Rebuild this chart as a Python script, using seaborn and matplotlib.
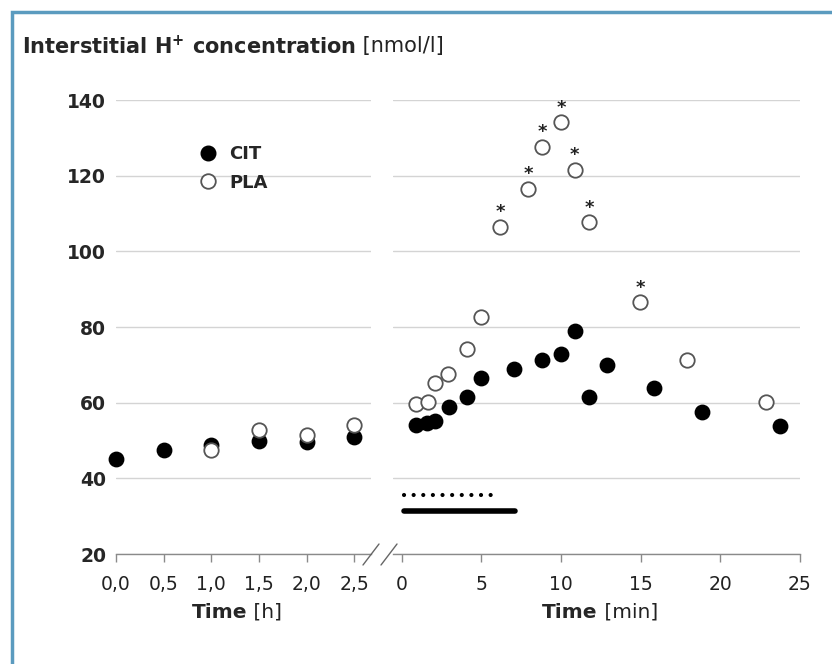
import matplotlib
matplotlib.use("Agg")
import matplotlib.pyplot as plt
import seaborn as sns
import pandas as pd
from matplotlib.lines import Line2D
from matplotlib.patches import Rectangle

sns.set_style("white")
plt.rcParams['font.family'] = ['DejaVu Sans']

# ---- data: baseline (hours)
h_time = [0.0, 0.5, 1.0, 1.5, 2.0, 2.5]
h_cit = [45.1, 47.6, 48.9, 49.9, 49.7, 51.0]
h_pla_time = [1.0, 1.5, 2.0, 2.5]
h_pla = [47.6, 52.8, 51.4, 54.0]

# ---- data: exercise / recovery (minutes)
m_cit_time = [0.88, 1.6, 2.09, 2.97, 4.1, 4.99, 7.04, 8.81, 10.0, 10.86, 11.76, 12.9, 15.83, 18.82, 23.77]
m_cit = [54.1, 54.5, 55.2, 58.9, 61.5, 66.4, 69.0, 71.3, 72.8, 79.0, 61.4, 70.0, 64.0, 57.5, 53.9]
m_pla_time = [0.88, 1.65, 2.07, 2.92, 4.1, 4.99, 6.16, 7.92, 8.81, 10.02, 10.86, 11.76, 14.97, 17.92, 22.87]
m_pla = [59.6, 60.3, 65.1, 67.7, 74.1, 82.6, 106.5, 116.6, 127.7, 134.1, 121.5, 107.7, 86.5, 71.3, 60.1]
signif = [False, False, False, False, False, False, True, True, True, True, True, True, True, False, False]

# horizontal bars below the data (minutes)
dot_bar = [0.13, 6.1]
solid_bar = [0.13, 7.1]

hours = pd.DataFrame({"t": h_time, "v": h_cit})
hours_pla = pd.DataFrame({"t": h_pla_time, "v": h_pla})
mins = pd.DataFrame({"t": m_cit_time, "v": m_cit})
mins_pla = pd.DataFrame({"t": m_pla_time, "v": m_pla, "sig": signif})

fig = plt.figure(figsize=(8.32, 6.64), dpi=100)
W, H = 832, 664
axL = fig.add_axes([116 / W, 110 / H, 255 / W, 454 / H])
axR = fig.add_axes([393 / W, 110 / H, 407 / W, 454 / H])

ms = 108
grid_c = "#d4d4d4"
spine_c = "#8a8a8a"

for ax in (axL, axR):
    ax.set_ylim(20, 140)
    ax.set_yticks([20, 40, 60, 80, 100, 120, 140])
    ax.grid(axis="y", color=grid_c, lw=1)
    ax.set_axisbelow(True)
    for s in ("top", "right", "left"):
        ax.spines[s].set_visible(False)
    ax.spines["bottom"].set_color(spine_c)
    ax.spines["bottom"].set_linewidth(1)
    ax.tick_params(axis="x", direction="out", length=6, color=spine_c, width=1,
                   labelsize=13.5, pad=9, bottom=True, labelcolor="#222222")
    ax.tick_params(axis="y", length=0)

# left panel
sns.scatterplot(data=hours, x="t", y="v", ax=axL, s=ms, color="black", edgecolor="black",
                linewidth=1, zorder=3, clip_on=False)
sns.scatterplot(data=hours_pla, x="t", y="v", ax=axL, s=ms, color="white", edgecolor="#555555",
                linewidth=1.3, zorder=4, clip_on=False)
axL.set_xlim(0, 2.675)
axL.set_xticks(h_time)
axL.set_xticklabels([f"{t:.1f}".replace(".", ",") for t in h_time])
axL.set_yticklabels([str(v) for v in [20, 40, 60, 80, 100, 120, 140]],
                    fontsize=13.5, fontweight="bold")
axL.tick_params(axis="y", pad=7)
axL.set_xlabel("")
axL.set_ylabel("")

# right panel
sns.scatterplot(data=mins, x="t", y="v", ax=axR, s=ms, color="black", edgecolor="black",
                linewidth=1, zorder=3, clip_on=False)
sns.scatterplot(data=mins_pla, x="t", y="v", ax=axR, s=ms, color="white", edgecolor="#555555",
                linewidth=1.3, zorder=4, clip_on=False)
for t, v, sg in zip(m_pla_time, m_pla, signif):
    if sg:
        axR.annotate("*", (t, v), xytext=(0, 4), textcoords="offset points",
                     ha="center", va="bottom", fontsize=13, fontweight="bold", color="#222222")
axR.set_xlim(-0.55, 25)
axR.set_xticks([0, 5, 10, 15, 20, 25])
axR.set_yticklabels([])
axR.hlines(35.6, dot_bar[0], dot_bar[1], color="black", lw=3,
           linestyles=[(0, (0.01, 2.3))], capstyle="round")
axR.hlines(31.4, solid_bar[0], solid_bar[1], color="black", lw=4, capstyle="round")
axR.set_xlabel("")
axR.set_ylabel("")

# legend
handles = [Line2D([], [], marker="o", ls="", markersize=10.5, markerfacecolor="black",
                  markeredgecolor="black"),
           Line2D([], [], marker="o", ls="", markersize=10.5, markerfacecolor="white",
                  markeredgecolor="#555555", markeredgewidth=1.3)]
leg = axL.legend(handles, ["CIT", "PLA"], loc="upper left", bbox_to_anchor=(0.254, 0.936),
                 frameon=False, prop={"weight": "bold", "size": 13}, handletextpad=0.6,
                 labelspacing=0.58, handlelength=1.2)

# axis break marks
for x0 in (363, 381):
    fig.add_artist(Line2D([x0 / W, (x0 + 16) / W], [(664 - 565) / H, (664 - 544) / H],
                          color="#666666", lw=1))

# two-part labels (bold + regular)
fig.canvas.draw()
rend = fig.canvas.get_renderer()


def two_part(x, y, bold, normal, size, center=False):
    t1 = fig.text(x, y, bold, fontsize=size, fontweight="bold", va="center", ha="left")
    t2 = fig.text(x, y, normal, fontsize=size, va="center", ha="left", color="#222222")
    w1 = t1.get_window_extent(rend).width
    w2 = t2.get_window_extent(rend).width
    x0 = x * W - (w1 + w2) / 2 if center else x * W
    t1.set_x(x0 / W)
    t2.set_x((x0 + w1) / W)


two_part(22 / W, 1 - 46 / H, "Interstitial H$^{\\mathbf{+}}$ concentration", " [nmol/l]", 15)
two_part(237 / W, 1 - 612 / H, "Time", " [h]", 14.5, center=True)
two_part(600 / W, 1 - 612 / H, "Time", " [min]", 14.5, center=True)

# blue frame
fig.add_artist(Rectangle((12 / W, -0.05), 1.2, 1 - 12 / H + 0.05, transform=fig.transFigure,
                         fill=False, edgecolor="#5b9bbf", lw=2.5))

fig.savefig("out.png", dpi=100)
